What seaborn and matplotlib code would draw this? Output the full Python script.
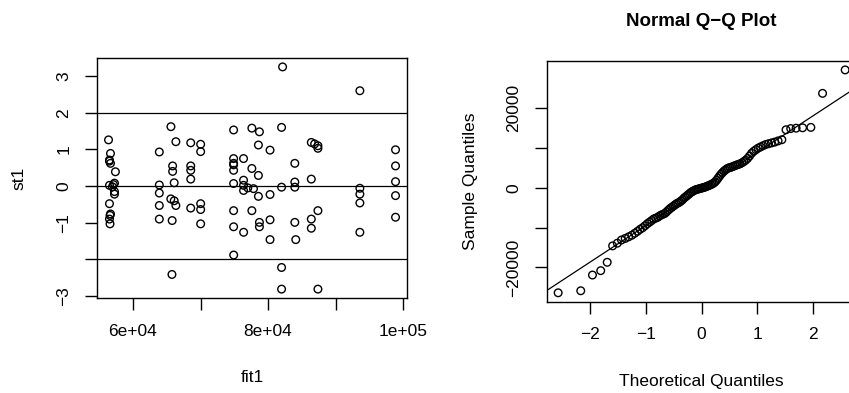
import numpy as np
import pandas as pd
import matplotlib
matplotlib.use("Agg")
import matplotlib.pyplot as plt
import seaborn as sns
from statistics import NormalDist

# fitted values and standardized residuals (left panel)
fit1 = [56380, 56670, 56520, 56670, 57400, 57260, 56520, 57110, 56960, 57260,
        57260, 56520, 56670, 56520, 56600, 56520, 56600,
        63900, 65620, 66350, 65870, 65870, 66100, 63900, 63900, 65600, 66100,
        66350, 63900, 63900, 65800, 65770,
        68550, 70020, 70020, 68550, 68550, 68550, 68550, 70020, 70020, 70020,
        74900, 77600, 78720, 82000, 78570, 80290, 74900, 74900, 74900, 76370,
        77600, 78570, 83960, 74900, 76370, 76370, 76370, 77840, 78570, 80290,
        82000, 83960, 83960, 74900, 77600, 74900, 78720, 78720, 80290, 83960,
        74900, 77000,
        82150, 93590, 86400, 86890, 87380, 87380, 86400, 93590, 93590, 93590,
        98870, 98870, 98870, 98870, 98870, 84100, 86400, 86400, 87380, 93590,
        76380, 80290, 74910, 82000, 82000, 87380]
st1 = [1.26, 0.89, 0.71, 0.62, 0.39, 0.08, 0.02, 0.04, -0.02, -0.15,
       -0.22, -0.48, -0.76, -0.90, -1.03, 0.68, -0.80,
       0.93, 1.62, 1.21, 0.55, 0.40, 0.09, 0.03, -0.19, -0.35, -0.40,
       -0.53, -0.53, -0.90, -0.94, -2.41,
       1.18, 1.14, 0.94, 0.55, 0.43, 0.19, -0.60, -0.48, -0.64, -1.03,
       1.53, 1.58, 1.48, 1.60, 1.12, 0.98, 0.75, 0.62, 0.43, 0.75,
       0.48, 0.29, 0.62, 0.07, 0.16, 0.02, -0.12, -0.07, -0.28, -0.23,
       -0.03, 0.11, -0.03, -0.67, -0.67, -1.11, -0.99, -1.11, -0.92, -0.99,
       0.58, -0.05,
       3.25, 2.60, 1.19, 1.15, 1.10, 1.03, 0.19, -0.06, -0.22, -0.46,
       0.99, 0.55, 0.12, -0.26, -0.85, -1.46, -0.90, -1.15, -0.67, -1.26,
       -1.26, -1.46, -1.88, -2.22, -2.81, -2.81]
ref_lines = [-2, 0, 2]
x_ticks_left = [60000, 70000, 80000, 90000, 100000]
x_labels_left = ["6e+04", "", "8e+04", "", "1e+05"]
y_ticks_left = [-3, -2, -1, 0, 1, 2, 3]
y_labels_left = ["\u22123", "", "\u22121", "0", "1", "2", "3"]

# sorted residuals (right panel, sample quantiles)
res_sorted = [-26360, -25850, -21900, -20800, -18700, -14570, -13900, -13100, -12700, -12300,
              -11900, -11400, -10900, -10400, -10000, -9500, -9000, -8600, -8200, -7800,
              -7600, -7400, -7050, -6800, -6600, -6400, -6000, -5600, -5200, -4900,
              -4600, -4300, -4000, -3800, -3600, -3300, -3000, -2600, -2300, -2000,
              -1700, -1400, -1100, -900, -700, -500, -400, -300, -200, -100,
              0, 100, 200, 350, 500, 650, 800, 1000, 1200, 1500,
              1900, 2400, 2900, 3400, 3800, 4200, 4500, 4800, 5000, 5100,
              5250, 5400, 5600, 5750, 5900, 6050, 6300, 6600, 6950, 7400,
              8000, 8700, 9200, 9600, 10000, 10300, 10600, 10900, 11100, 11300,
              11500, 11800, 12100, 14600, 14900, 15000, 15100, 15200, 23750, 29640]
x_ticks_qq = [-2, -1, 0, 1, 2]
x_labels_qq = ["\u22122", "\u22121", "0", "1", "2"]
y_ticks_qq = [-20000, -10000, 0, 10000, 20000]
y_labels_qq = ["\u221220000", "", "0", "", "20000"]

sns.set_theme(style="white")
plt.rcParams['font.family'] = ['Liberation Sans', 'DejaVu Sans']
plt.rcParams['axes.edgecolor'] = 'black'
plt.rcParams['axes.labelcolor'] = 'black'
plt.rcParams['text.color'] = 'black'
plt.rcParams['xtick.color'] = 'black'
plt.rcParams['ytick.color'] = 'black'
plt.rcParams['axes.linewidth'] = 1.0

fig = plt.figure(figsize=(8.49, 3.93), dpi=100)
ax1 = fig.add_axes([0.1143, 0.2417, 0.3651, 0.6107])
ax2 = fig.add_axes([0.6439, 0.2323, 0.3651, 0.6125])

pts = dict(marker='o', s=30, facecolor='none', edgecolor='black', linewidth=1.0)

# left: standardized residuals vs fitted
df1 = pd.DataFrame({'fit1': fit1, 'st1': st1})
sns.scatterplot(data=df1, x='fit1', y='st1', ax=ax1, **pts)
for h in ref_lines:
    ax1.axhline(h, color='black', linewidth=0.9)
ax1.margins(0.04)
ax1.set_xticks(x_ticks_left)
ax1.set_xticklabels(x_labels_left)
ax1.set_yticks(y_ticks_left)
ax1.set_yticklabels(y_labels_left, rotation=90, va='center')
ax1.set_xlabel('fit1', fontsize=12.5)
ax1.set_ylabel('st1', fontsize=12.5)
ax1.xaxis.set_label_coords(0.5, -0.30)
ax1.yaxis.set_label_coords(-0.229, 0.5)

# right: normal Q-Q plot
n = len(res_sorted)
theo = [NormalDist().inv_cdf((i - 0.5) / n) for i in range(1, n + 1)]
df2 = pd.DataFrame({'theo': theo, 'sample': np.sort(res_sorted)})
sns.scatterplot(data=df2, x='theo', y='sample', ax=ax2, **pts)
q1, q3 = np.quantile(df2['sample'], [0.25, 0.75])
t1, t3 = NormalDist().inv_cdf(0.25), NormalDist().inv_cdf(0.75)
slope = (q3 - q1) / (t3 - t1)
ax2.axline((t1, q1), slope=slope, color='black', linewidth=0.9)
ax2.margins(0.04)
ax2.set_xticks(x_ticks_qq)
ax2.set_xticklabels(x_labels_qq)
ax2.set_yticks(y_ticks_qq)
ax2.set_yticklabels(y_labels_qq, rotation=90, va='center')
ax2.set_xlabel('Theoretical Quantiles', fontsize=12.5)
ax2.set_ylabel('Sample Quantiles', fontsize=12.5)
ax2.xaxis.set_label_coords(0.5, -0.30)
ax2.yaxis.set_label_coords(-0.222, 0.5)
ax2.set_title('Normal Q\u2212Q Plot', fontsize=13.5, fontweight='bold', y=1.11)

for ax in (ax1, ax2):
    ax.tick_params(direction='out', length=8.5, width=1.0, color='black',
                   labelsize=12.5, pad=10, labelcolor='black',
                   bottom=True, left=True)
    for sp in ax.spines.values():
        sp.set_visible(True)
        sp.set_color('black')

fig.savefig('out.png', dpi=100, facecolor='white')
